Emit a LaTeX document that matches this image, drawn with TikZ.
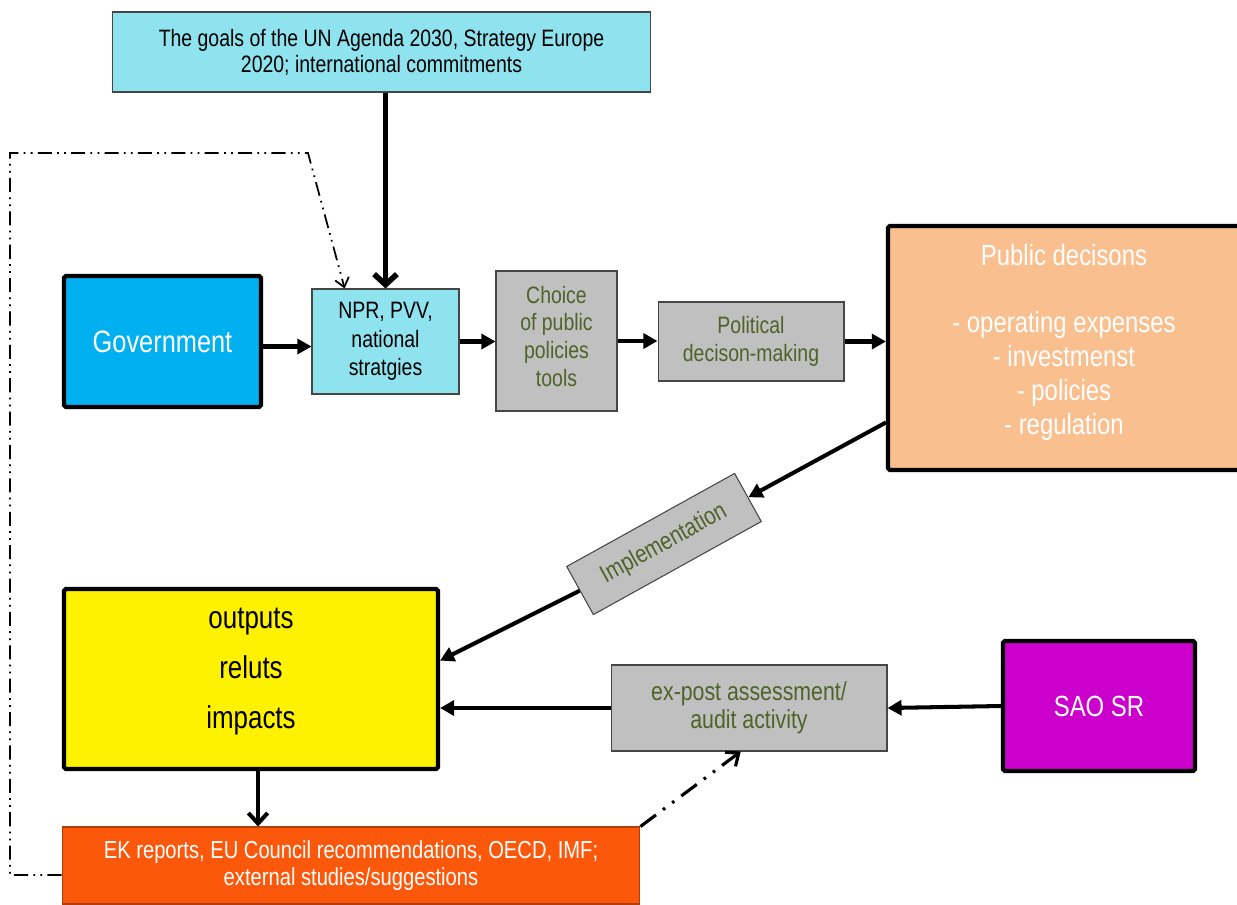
\documentclass[tikz,border=0pt]{standalone}
\usepackage{fontspec}
\setmainfont{Liberation Sans}[FakeStretch=0.82]
\usetikzlibrary{arrows.meta,calc}
\definecolor{lcyan}{RGB}{143,227,239}
\definecolor{govblue}{RGB}{0,176,240}
\definecolor{boxgray}{RGB}{192,192,192}
\definecolor{txtgreen}{RGB}{79,98,40}
\definecolor{peach}{RGB}{249,191,143}
\definecolor{magentabox}{RGB}{204,0,204}
\definecolor{orangebox}{RGB}{252,88,12}
\definecolor{thinborder}{RGB}{70,70,70}
\newcommand\setfs[2]{\fontsize{#1}{#2}\selectfont}
\begin{document}
\begin{tikzpicture}[x=0.02cm,y=-0.02cm,
  box/.style={rectangle,inner sep=0pt,align=center},
  thinbox/.style={box,draw=thinborder,line width=0.6pt},
  thickbox/.style={box,draw=black,line width=2.4pt,rounded corners=1pt},
  graybox/.style={thinbox,fill=boxgray,text=txtgreen},
  arr/.style={line width=2.3pt,-{Triangle[length=8pt,width=8.5pt]}},
  bigarr/.style={line width=3.2pt,-{Straight Barb[length=6pt,width=13pt]}},
  vbarr/.style={line width=2.3pt,-{Straight Barb[length=6pt,width=11pt]}},
  loopline/.style={line width=1pt,dash pattern=on 8pt off 3pt on 1pt off 3pt on 1pt off 3pt,
    -{Straight Barb[length=5pt,width=8pt]}},
  auditline/.style={line width=1.8pt,dash pattern=on 11pt off 5pt on 1.5pt off 5pt on 1.5pt off 5pt,
    -{Straight Barb[length=6pt,width=10pt]}}
]
\useasboundingbox (0,0) rectangle (1237,904);

% boxes
\node[thinbox,fill=lcyan,minimum width=10.78cm,minimum height=1.6cm,font=\setfs{13.5}{14.8}]
  (goals) at (381.5,52) {The goals of the UN Agenda 2030, Strategy Europe\\2020; international commitments};
\node[thickbox,fill=govblue,text=white,minimum width=3.94cm,minimum height=2.62cm,font=\setfs{17.6}{20}]
  (gov) at (162.5,341.5) {Government};
\node[thinbox,fill=lcyan,minimum width=2.94cm,minimum height=2.1cm,font=\setfs{13.5}{16.2}]
  (npr) at (385.5,341.5) {NPR, PVV,\\national\\stratgies};
\node[graybox,minimum width=2.42cm,minimum height=2.8cm,font=\setfs{13.5}{15.7},text depth=5.5pt]
  (choice) at (556.5,341) {Choice\\of public\\policies\\tools};
\node[graybox,minimum width=3.72cm,minimum height=1.58cm,font=\setfs{13.5}{15.9}]
  (political) at (751,341.5) {Political\\decison-making};
\node[thickbox,fill=peach,text=white,minimum width=7.04cm,minimum height=4.88cm,font=\setfs{16.6}{19.3},text depth=10pt]
  (public) at (1064,348) {Public decisons\\[19.3pt]- operating expenses\\- investmenst\\- policies\\- regulation};
\node[graybox,rotate=29,minimum width=3.84cm,minimum height=1.1cm,font=\setfs{14.2}{16}]
  (impl) at (664,544) {Implementation};
\node[thickbox,fill=yellow,text=black,minimum width=7.48cm,minimum height=3.6cm,font=\setfs{18}{28.3},text depth=12pt]
  (yellow) at (251,679) {outputs\\reluts\\impacts};
\node[graybox,minimum width=5.52cm,minimum height=1.72cm,font=\setfs{14.8}{15.9}]
  (expost) at (749,708) {ex-post assessment/\\audit activity};
\node[thickbox,fill=magentabox,text=white,minimum width=3.84cm,minimum height=2.6cm,font=\setfs{16.6}{19}]
  (sao) at (1099,706) {SAO SR};
\node[thinbox,draw=orangebox!70!black,fill=orangebox,text=white,minimum width=11.56cm,minimum height=1.54cm,font=\setfs{14}{15.3}]
  (orange) at (351,865.5) {EK reports, EU Council recommendations, OECD, IMF;\\external studies/suggestions};

% connectors
\draw[bigarr] (npr.north |- goals.south) -- (npr.north);
\coordinate (ge) at ($(gov.east)+(0,5)$);
\draw[arr] (ge) -- (ge -| npr.west);
\draw[arr] (npr.east) -- (npr.east -| choice.west);
\draw[arr] (choice.east) -- (choice.east -| political.west);
\draw[arr] (political.east) -- (political.east -| public.west);
\draw[arr] ($(public.south west)!0.2!(public.north west)$) -- (impl.east);
\draw[arr] (impl.west) -- ($(yellow.north east)!0.4!(yellow.south east)$);
\draw[arr] (sao.west) -- (expost.east);
\draw[arr] (expost.west) -- (expost.west -| yellow.east);
\coordinate (ys) at ($(yellow.south)+(7,0)$);
\draw[vbarr] (ys) -- (ys |- orange.north);
\draw[auditline] (orange.north east) -- ($(expost.south west)!0.47!(expost.south east)$);

\coordinate (loopA) at (10,153);
\coordinate (loopB) at (308,153);
\draw[loopline] ($(orange.north west)!0.62!(orange.south west)$) -| (loopA) -- (loopB)
  -- ($(npr.north west)!0.224!(npr.north east)$);
\end{tikzpicture}
\end{document}
